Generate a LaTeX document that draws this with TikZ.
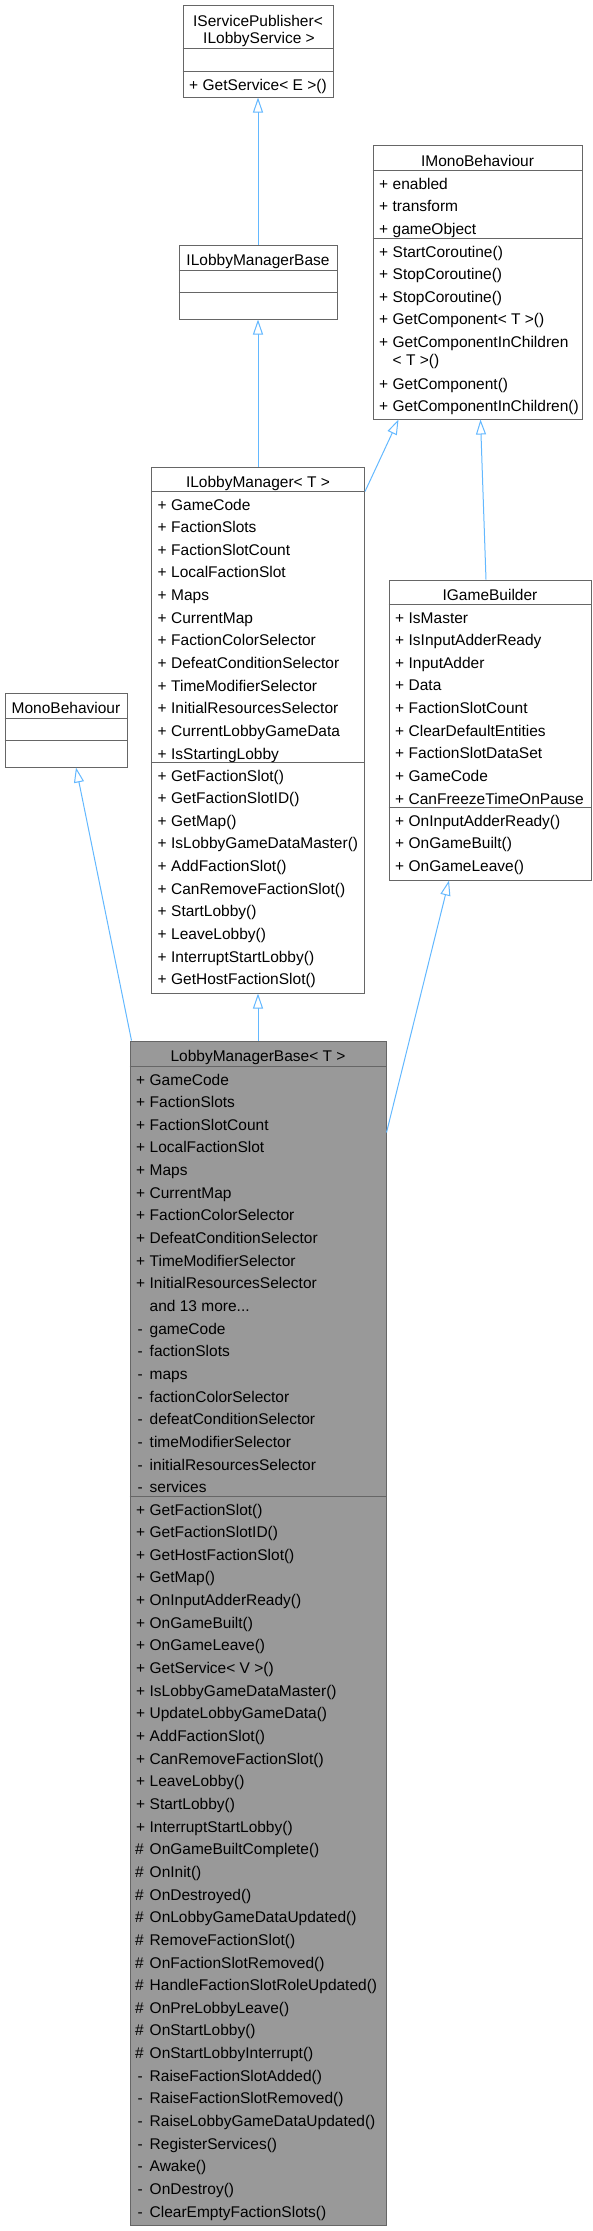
\documentclass[tikz,border=0pt]{standalone}
\usepackage{fontspec}
\setmainfont{Liberation Sans}
\usetikzlibrary{arrows.meta}
\definecolor{bordergray}{HTML}{666666}
\definecolor{fillgray}{HTML}{999999}
\definecolor{edgeblue}{HTML}{63B8FF}
\newcommand{\pubm}[1]{\makebox[13.5pt][l]{+}#1}
\newcommand{\privm}[1]{\makebox[13.5pt][l]{\hspace{1.5pt}-}#1}
\newcommand{\protm}[1]{\makebox[13.5pt][l]{\hspace{-1pt}\#}#1}
\newcommand{\morem}[1]{\makebox[13.5pt][l]{}#1}
\newcommand{\umlrows}[4]{%
  \foreach \t [count=\k from 0] in {#4}{%
    \node[rowtext] (#1-\k) at (#2,{#3+22.65*\k}) {\t};
  }}
\tikzset{
  umlbox/.style={draw=bordergray, line width=1pt, fill=white, inner sep=0pt},
  curbox/.style={umlbox, fill=fillgray},
  divider/.style={draw=bordergray, line width=1pt},
  rowtext/.style={anchor=base west, inner sep=0pt, font=\fontsize{15.5}{18}\selectfont},
  titletext/.style={anchor=base, inner sep=0pt, font=\fontsize{15.5}{18}\selectfont},
  edge/.style={draw=edgeblue, line width=1pt, -{Triangle[open, length=15pt, width=10pt, line width=1pt, fill=white]}}
}
\begin{document}
\begin{tikzpicture}[x=1pt,y=-1pt]
\useasboundingbox (0,0) rectangle (593,2231);

% ---------- boxes ----------
\node[umlbox, minimum width=150pt, minimum height=92pt] (isp) at (258,51) {};
\node[umlbox, minimum width=158pt, minimum height=74pt] (ilmb) at (258,282) {};
\node[umlbox, minimum width=209pt, minimum height=274pt] (imono) at (477.5,282) {};
\node[umlbox, minimum width=213pt, minimum height=526pt] (ilm) at (258,730) {};
\node[umlbox, minimum width=202pt, minimum height=300pt] (igb) at (490,730) {};
\node[umlbox, minimum width=122pt, minimum height=74pt] (mono) at (66,730) {};
\node[curbox, minimum width=256pt, minimum height=1184pt] (lmb) at (258,1633) {};

% ---------- dividers ----------
\draw[divider] ([yshift=-44pt]isp.north west) -- ([yshift=-44pt]isp.north east);
\draw[divider] ([yshift=-67pt]isp.north west) -- ([yshift=-67pt]isp.north east);
\draw[divider] ([yshift=-26pt]ilmb.north west) -- ([yshift=-26pt]ilmb.north east);
\draw[divider] ([yshift=-48pt]ilmb.north west) -- ([yshift=-48pt]ilmb.north east);
\draw[divider] ([yshift=-26pt]imono.north west) -- ([yshift=-26pt]imono.north east);
\draw[divider] ([yshift=-94pt]imono.north west) -- ([yshift=-94pt]imono.north east);
\draw[divider] ([yshift=-25pt]ilm.north west) -- ([yshift=-25pt]ilm.north east);
\draw[divider] ([yshift=-296pt]ilm.north west) -- ([yshift=-296pt]ilm.north east);
\draw[divider] ([yshift=-25pt]igb.north west) -- ([yshift=-25pt]igb.north east);
\draw[divider] ([yshift=-228pt]igb.north west) -- ([yshift=-228pt]igb.north east);
\draw[divider] ([yshift=-26pt]mono.north west) -- ([yshift=-26pt]mono.north east);
\draw[divider] ([yshift=-48pt]mono.north west) -- ([yshift=-48pt]mono.north east);
\draw[divider] ([yshift=-26pt]lmb.north west) -- ([yshift=-26pt]lmb.north east);
\draw[divider] ([yshift=-456pt]lmb.north west) -- ([yshift=-456pt]lmb.north east);

% ---------- titles ----------
\node[titletext] (isp-t1) at (258,26) {IServicePublisher<};
\node[titletext] (isp-t2) at (259,43.3) {ILobbyService >};
\node[titletext] (ilmb-t) at (258,265.7) {ILobbyManagerBase};
\node[titletext] (imono-t) at (477.5,166) {IMonoBehaviour};
\node[titletext] (ilm-t) at (258,487.5) {ILobbyManager< T >};
\node[titletext] (igb-t) at (490,600.5) {IGameBuilder};
\node[titletext] (mono-t) at (66,713.5) {MonoBehaviour};
\node[titletext] (lmb-t) at (258,1061.7) {LobbyManagerBase< T >};

% ---------- IServicePublisher ----------
\umlrows{ispm}{189}{90}{\pubm{GetService< E >()}}

% ---------- IMonoBehaviour ----------
\umlrows{imonoa}{379}{189}{\pubm{enabled},\pubm{transform},\pubm{gameObject}}
\umlrows{imonom}{379}{257}{\pubm{StartCoroutine()},\pubm{StopCoroutine()},\pubm{StopCoroutine()},\pubm{GetComponent< T >()},\pubm{GetComponentInChildren}}
\node[rowtext] (imonom-5) at (392.5,365.3) {< T >()};
\umlrows{imonon}{379}{389}{\pubm{GetComponent()},\pubm{GetComponentInChildren()}}

% ---------- ILobbyManager<T> ----------
\umlrows{ilma}{157.5}{510}{\pubm{GameCode},\pubm{FactionSlots},\pubm{FactionSlotCount},\pubm{LocalFactionSlot},\pubm{Maps},\pubm{CurrentMap},\pubm{FactionColorSelector},\pubm{DefeatConditionSelector},\pubm{TimeModifierSelector},\pubm{InitialResourcesSelector},\pubm{CurrentLobbyGameData},\pubm{IsStartingLobby}}
\umlrows{ilmm}{157.5}{781}{\pubm{GetFactionSlot()},\pubm{GetFactionSlotID()},\pubm{GetMap()},\pubm{IsLobbyGameDataMaster()},\pubm{AddFactionSlot()},\pubm{CanRemoveFactionSlot()},\pubm{StartLobby()},\pubm{LeaveLobby()},\pubm{InterruptStartLobby()},\pubm{GetHostFactionSlot()}}

% ---------- IGameBuilder ----------
\umlrows{igba}{395}{623}{\pubm{IsMaster},\pubm{IsInputAdderReady},\pubm{InputAdder},\pubm{Data},\pubm{FactionSlotCount},\pubm{ClearDefaultEntities},\pubm{FactionSlotDataSet},\pubm{GameCode},\pubm{CanFreezeTimeOnPause}}
\umlrows{igbm}{395}{826}{\pubm{OnInputAdderReady()},\pubm{OnGameBuilt()},\pubm{OnGameLeave()}}

% ---------- LobbyManagerBase<T> ----------
\umlrows{lmba}{136}{1085}{\pubm{GameCode},\pubm{FactionSlots},\pubm{FactionSlotCount},\pubm{LocalFactionSlot},\pubm{Maps},\pubm{CurrentMap},\pubm{FactionColorSelector},\pubm{DefeatConditionSelector},\pubm{TimeModifierSelector},\pubm{InitialResourcesSelector},\morem{and 13 more...},\privm{gameCode},\privm{factionSlots},\privm{maps},\privm{factionColorSelector},\privm{defeatConditionSelector},\privm{timeModifierSelector},\privm{initialResourcesSelector},\privm{services}}
\umlrows{lmbm}{136}{1515}{\pubm{GetFactionSlot()},\pubm{GetFactionSlotID()},\pubm{GetHostFactionSlot()},\pubm{GetMap()},\pubm{OnInputAdderReady()},\pubm{OnGameBuilt()},\pubm{OnGameLeave()},\pubm{GetService< V >()},\pubm{IsLobbyGameDataMaster()},\pubm{UpdateLobbyGameData()},\pubm{AddFactionSlot()},\pubm{CanRemoveFactionSlot()},\pubm{LeaveLobby()},\pubm{StartLobby()},\pubm{InterruptStartLobby()},\protm{OnGameBuiltComplete()},\protm{OnInit()},\protm{OnDestroyed()},\protm{OnLobbyGameDataUpdated()},\protm{RemoveFactionSlot()},\protm{OnFactionSlotRemoved()},\protm{HandleFactionSlotRoleUpdated()},\protm{OnPreLobbyLeave()},\protm{OnStartLobby()},\protm{OnStartLobbyInterrupt()},\privm{RaiseFactionSlotAdded()},\privm{RaiseFactionSlotRemoved()},\privm{RaiseLobbyGameDataUpdated()},\privm{RegisterServices()},\privm{Awake()},\privm{OnDestroy()},\privm{ClearEmptyFactionSlots()}}

% ---------- inheritance edges ----------
\draw[edge] (ilmb.north) -- (isp.south);
\draw[edge] (ilm.north) -- (ilmb.south);
\draw[edge] ([yshift=-25pt]ilm.north east) -- ([xshift=26pt]imono.south west);
\draw[edge] ([xshift=-4pt]igb.north) -- ([xshift=3pt]imono.south);
\draw[edge] ([xshift=2pt]lmb.north west) -- ([xshift=10pt]mono.south);
\draw[edge] (lmb.north) -- (ilm.south);
\draw[edge] ([yshift=-92pt]lmb.north east) -- ([xshift=-41pt]igb.south);
\end{tikzpicture}
\end{document}
